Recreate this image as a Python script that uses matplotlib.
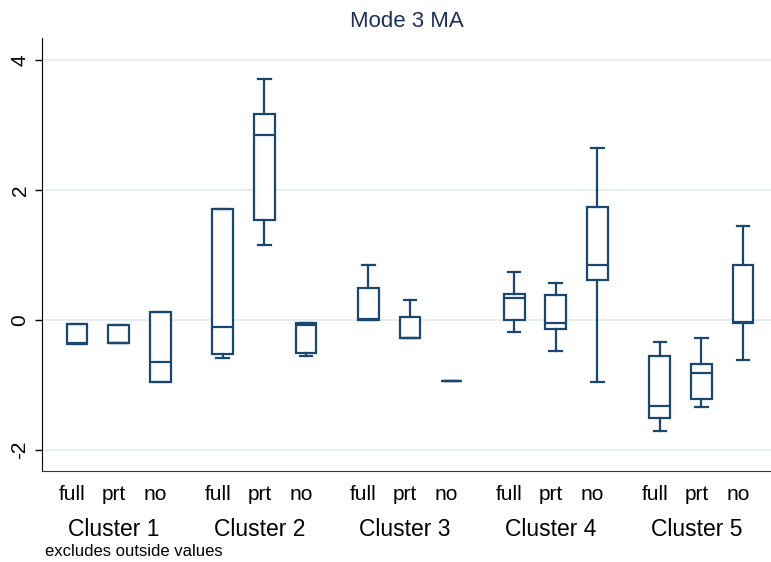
import matplotlib.pyplot as plt
import matplotlib.transforms as mtransforms

plt.rcParams['font.family'] = ['Liberation Sans', 'DejaVu Sans']

clusters = ['Cluster 1', 'Cluster 2', 'Cluster 3', 'Cluster 4', 'Cluster 5']
groups = ['full', 'prt', 'no']

# per box: lower whisker, q1, median, q3, upper whisker
whislo = [-0.37, -0.36, -0.95,   -0.58, 1.15, -0.55,   0.00, -0.28, -0.94,   -0.18, -0.48, -0.95,   -1.70, -1.33, -0.61]
q1     = [-0.37, -0.36, -0.95,   -0.52, 1.53, -0.50,   0.00, -0.28, -0.94,    0.00, -0.14,  0.62,   -1.50, -1.22, -0.04]
med    = [-0.36, -0.35, -0.65,   -0.11, 2.84, -0.08,   0.01, -0.27, -0.94,    0.34, -0.05,  0.84,   -1.32, -0.81, -0.03]
q3     = [-0.06, -0.08,  0.12,    1.70, 3.17, -0.05,   0.49,  0.05, -0.94,    0.40,  0.38,  1.74,   -0.56, -0.67,  0.85]
whishi = [-0.06, -0.08,  0.12,    1.70, 3.71, -0.05,   0.84,  0.31, -0.94,    0.73,  0.57,  2.64,   -0.34, -0.28,  1.44]

navy = '#1a476f'

stats = []
positions = []
for i in range(len(med)):
    g, j = divmod(i, 3)
    positions.append(3.5 * g + j)
    stats.append(dict(whislo=whislo[i], q1=q1[i], med=med[i], q3=q3[i],
                      whishi=whishi[i], fliers=[]))

fig = plt.figure(figsize=(7.71, 5.62), dpi=100)
ax = fig.add_axes([0.0545, 0.162, 0.946, 0.770])

ax.bxp(stats, positions=positions, widths=0.5, showfliers=False,
       patch_artist=True,
       boxprops=dict(facecolor='white', edgecolor=navy, linewidth=1.6),
       medianprops=dict(color=navy, linewidth=1.6),
       whiskerprops=dict(color=navy, linewidth=1.6),
       capprops=dict(color=navy, linewidth=1.6),
       capwidths=0.3, zorder=3)

ax.set_xlim(-0.84, 16.68)
ax.set_ylim(-2.32, 4.33)
ax.set_yticks([-2, 0, 2, 4])
ax.set_yticklabels(['-2', '0', '2', '4'], rotation=90, va='center', fontsize=15)
ax.tick_params(axis='y', length=5, width=1, pad=4)
ax.yaxis.grid(True, color='#e7eef1', linewidth=1.5)
ax.set_axisbelow(True)

# category labels sit a touch left of the box centres
ax.set_xticks([])
trans = mtransforms.blended_transform_factory(ax.transData, ax.transAxes)
for i, p in enumerate(positions):
    ax.text(p - 0.12, -0.055, groups[i % 3], transform=trans, ha='center',
            va='center', fontsize=15)
for g, name in enumerate(clusters):
    ax.text(3.5 * g + 1 - 0.12, -0.135, name, transform=trans, ha='center',
            va='center', fontsize=16.5)

for s in ['top', 'right']:
    ax.spines[s].set_visible(False)
ax.spines['left'].set_color('black')
ax.spines['bottom'].set_color('#333333')

ax.set_title('Mode 3 MA', color='#1e2f5f', fontsize=16, pad=8)
fig.text(0.058, 0.019, 'excludes outside values', fontsize=12, va='center')

fig.savefig('out.png', dpi=100)
